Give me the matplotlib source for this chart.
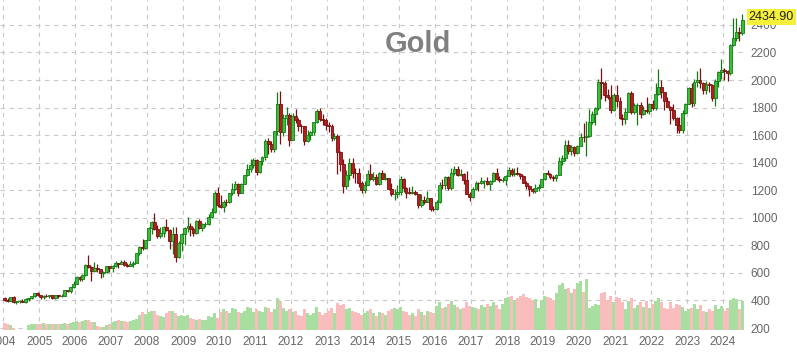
import pandas as pd
import matplotlib
matplotlib.use('Agg')
import matplotlib.pyplot as plt
import matplotlib.dates as mdates
import matplotlib.transforms as mtransforms

# monthly gold candles, Jan 2004 .. Jul 2024
first_open = 416
closes = [
    400, 397, 427, 388, 393, 395, 391, 408, 416, 429, 453, 438,  # 2004
    423, 434, 429, 436, 417, 437, 429, 434, 473, 470, 495, 518,  # 2005
    569, 557, 583, 654, 645, 616, 633, 626, 599, 604, 648, 635,  # 2006
    651, 669, 664, 680, 657, 650, 666, 673, 743, 789, 783, 838,  # 2007
    923, 971, 917, 865, 887, 930, 912, 833, 880, 718, 819, 884,  # 2008
    927, 942, 917, 891, 979, 927, 955, 956, 1008, 1040, 1182, 1096,  # 2009
    1081, 1118, 1113, 1180, 1212, 1245, 1181, 1248, 1308, 1357, 1386, 1421,  # 2010
    1332, 1411, 1439, 1556, 1536, 1502, 1628, 1829, 1620, 1724, 1746, 1566,  # 2011
    1740, 1711, 1669, 1664, 1561, 1604, 1622, 1692, 1772, 1719, 1713, 1675,  # 2012
    1663, 1578, 1596, 1476, 1393, 1234, 1313, 1395, 1328, 1323, 1250, 1202,  # 2013
    1240, 1321, 1284, 1295, 1246, 1322, 1282, 1287, 1210, 1171, 1175, 1184,  # 2014
    1278, 1213, 1183, 1182, 1190, 1172, 1095, 1132, 1115, 1142, 1065, 1061,  # 2015
    1116, 1238, 1235, 1293, 1215, 1322, 1351, 1309, 1316, 1276, 1173, 1152,  # 2016
    1211, 1252, 1249, 1268, 1269, 1242, 1269, 1322, 1280, 1271, 1275, 1303,  # 2017
    1345, 1318, 1327, 1316, 1305, 1253, 1233, 1206, 1192, 1215, 1222, 1282,  # 2018
    1325, 1316, 1298, 1286, 1311, 1413, 1437, 1529, 1485, 1514, 1473, 1523,  # 2019
    1589, 1585, 1596, 1694, 1751, 1800, 1986, 1978, 1895, 1879, 1780, 1895,  # 2020
    1850, 1728, 1715, 1768, 1905, 1771, 1817, 1818, 1757, 1784, 1776, 1829,  # 2021
    1797, 1900, 1949, 1911, 1848, 1807, 1782, 1726, 1672, 1640, 1759, 1826,  # 2022
    1945, 1836, 1986, 1999, 1982, 1929, 1970, 1966, 1866, 1996, 2057, 2072,  # 2023
    2067, 2054, 2254, 2303, 2346, 2339, 2434.9,  # 2024
]
highs = [
    427, 419, 428, 431, 398, 405, 410, 416, 419, 431, 456, 458,
    440, 437, 446, 438, 438, 442, 440, 448, 477, 478, 497, 540,
    574, 575, 590, 662, 732, 649, 678, 665, 628, 612, 652, 651,
    657, 690, 672, 696, 693, 672, 684, 684, 748, 796, 848, 842,
    935, 976, 1033, 950, 932, 943, 991, 920, 930, 935, 830, 888,
    932, 1007, 960, 931, 981, 992, 960, 966, 1025, 1071, 1195, 1227,
    1162, 1126, 1138, 1181, 1249, 1265, 1250, 1252, 1310, 1388, 1424, 1432,
    1424, 1414, 1447, 1575, 1577, 1560, 1632, 1912, 1921, 1753, 1804, 1764,
    1764, 1792, 1723, 1680, 1668, 1640, 1633, 1693, 1790, 1798, 1755, 1726,
    1694, 1679, 1617, 1611, 1487, 1424, 1348, 1434, 1434, 1362, 1361, 1267,
    1268, 1345, 1392, 1331, 1315, 1332, 1346, 1325, 1290, 1255, 1206, 1239,
    1307, 1287, 1224, 1224, 1232, 1205, 1175, 1170, 1157, 1191, 1143, 1089,
    1127, 1263, 1283, 1306, 1304, 1362, 1377, 1375, 1352, 1326, 1337, 1188,
    1220, 1264, 1262, 1295, 1273, 1296, 1275, 1331, 1362, 1306, 1299, 1310,
    1366, 1361, 1365, 1369, 1326, 1309, 1266, 1236, 1214, 1246, 1245, 1285,
    1327, 1349, 1323, 1310, 1316, 1443, 1453, 1565, 1566, 1527, 1518, 1527,
    1613, 1691, 1704, 1788, 1775, 1802, 2005, 2089, 1992, 1933, 1965, 1907,
    1962, 1875, 1755, 1797, 1916, 1919, 1834, 1832, 1837, 1814, 1877, 1831,
    1853, 1976, 2079, 2003, 1912, 1879, 1814, 1824, 1735, 1729, 1786, 1833,
    1950, 1975, 2010, 2064, 2085, 1986, 1990, 1983, 1970, 2009, 2062, 2152,
    2088, 2070, 2265, 2448, 2450, 2388, 2483,
]
lows = [
    399, 392, 393, 382, 371, 381, 386, 385, 399, 411, 424, 430,
    414, 410, 425, 420, 414, 414, 417, 427, 432, 463, 456, 490,
    517, 540, 541, 580, 638, 543, 603, 610, 560, 567, 600, 610,
    603, 646, 635, 662, 652, 640, 647, 645, 672, 730, 769, 777,
    836, 883, 914, 855, 853, 858, 904, 774, 736, 681, 705, 760,
    803, 895, 866, 865, 881, 921, 903, 934, 950, 997, 1034, 1075,
    1073, 1044, 1089, 1111, 1165, 1202, 1157, 1177, 1242, 1305, 1330, 1359,
    1308, 1327, 1381, 1420, 1462, 1478, 1478, 1603, 1535, 1593, 1670, 1523,
    1563, 1690, 1627, 1614, 1527, 1550, 1565, 1598, 1689, 1700, 1672, 1636,
    1626, 1555, 1563, 1321, 1337, 1180, 1207, 1271, 1292, 1251, 1227, 1182,
    1182, 1238, 1277, 1268, 1240, 1240, 1281, 1271, 1205, 1161, 1131, 1142,
    1167, 1190, 1142, 1170, 1170, 1162, 1072, 1077, 1099, 1112, 1052, 1046,
    1058, 1108, 1208, 1208, 1199, 1200, 1310, 1301, 1305, 1242, 1171, 1122,
    1146, 1199, 1195, 1245, 1214, 1237, 1204, 1258, 1275, 1260, 1263, 1236,
    1302, 1307, 1303, 1311, 1282, 1250, 1211, 1160, 1180, 1182, 1196, 1221,
    1276, 1309, 1281, 1266, 1267, 1310, 1382, 1412, 1465, 1459, 1446, 1461,
    1518, 1547, 1450, 1586, 1680, 1673, 1779, 1864, 1849, 1859, 1764, 1776,
    1802, 1717, 1677, 1679, 1766, 1750, 1750, 1677, 1721, 1746, 1758, 1753,
    1780, 1785, 1890, 1872, 1786, 1805, 1681, 1710, 1615, 1618, 1617, 1754,
    1823, 1804, 1810, 1950, 1942, 1900, 1902, 1913, 1848, 1810, 1953, 2010,
    2002, 1996, 2039, 2250, 2286, 2285, 2327,
]
volumes = [
    48, 45, 36, 12, 3, 2, 2, 3, 36, 40, 45, 42,
    42, 48, 45, 40, 45, 42, 40, 45, 48, 44, 50, 55,
    62, 58, 66, 72, 70, 60, 55, 28, 24, 24, 36, 40,
    58, 64, 70, 62, 66, 60, 64, 70, 80, 110, 130, 115,
    130, 140, 135, 110, 100, 95, 120, 135, 140, 125, 100, 110,
    100, 110, 85, 80, 75, 80, 70, 75, 105, 95, 120, 90,
    130, 150, 140, 120, 160, 150, 130, 120, 140, 165, 160, 130,
    150, 140, 130, 170, 160, 130, 150, 230, 210, 160, 140, 150,
    130, 140, 110, 100, 150, 120, 110, 120, 170, 130, 110, 120,
    140, 160, 120, 195, 180, 190, 150, 160, 140, 130, 120, 110,
    120, 140, 150, 120, 100, 130, 120, 110, 140, 150, 160, 150,
    165, 140, 130, 110, 120, 105, 150, 130, 110, 140, 130, 120,
    175, 200, 160, 170, 190, 210, 180, 170, 150, 160, 200, 175,
    170, 160, 155, 180, 165, 190, 175, 200, 180, 150, 190, 230,
    240, 250, 220, 230, 250, 260, 240, 230, 215, 225, 160, 220,
    250, 240, 230, 220, 270, 330, 340, 300, 305, 270, 300, 340,
    355, 275, 370, 160, 175, 190, 185, 270, 275, 215, 250, 200,
    240, 230, 200, 150, 210, 230, 160, 180, 200, 170, 210, 160,
    190, 210, 230, 200, 160, 150, 200, 160, 190, 180, 170, 140,
    150, 160, 190, 150, 180, 140, 130, 150, 140, 180, 150, 175,
    140, 160, 220, 230, 225, 150, 210,
]
years = list(range(2004, 2025))
price_ticks = list(range(200, 2401, 200))
title = 'Gold'
last_label = '2434.90'

opens = [first_open] + closes[:-1]
months = pd.date_range('2004-01-01', periods=len(closes), freq='MS') + pd.Timedelta(days=15)
up = [c >= o for o, c in zip(opens, closes)]

plt.rcParams['font.family'] = ['Liberation Sans', 'DejaVu Sans']

fig = plt.figure(figsize=(7.97, 3.60), dpi=100)
ax = fig.add_axes([0, 30 / 360, 745 / 797, 330 / 360])

ymin, ymax = 185.5, 2581
ax.set_ylim(ymin, ymax)
ax.set_xlim(pd.Timestamp('2003-12-01'), pd.Timestamp('2024-08-11'))

# volume
vol_cols = ['#a8dea0' if u else '#f9bdbd' for u in up]
ax.bar(months, volumes, width=30.5, bottom=ymin, color=vol_cols, linewidth=0, zorder=1)

# candles
wick_cols = ['#147a14' if u else '#7a1010' for u in up]
body_cols = ['#38bf38' if u else '#b41e1e' for u in up]
ax.vlines(months, lows, highs, colors=wick_cols, linewidth=0.9, zorder=2)
bottoms = [min(o, c) for o, c in zip(opens, closes)]
heights = [max(abs(c - o), 2) for o, c in zip(opens, closes)]
ax.bar(months, heights, width=23, bottom=bottoms, color=body_cols,
       edgecolor=wick_cols, linewidth=0.6, zorder=3)

# axes styling
ax.grid(True, linestyle=(0, (4, 4)), color='#c8c8c8', linewidth=0.8, zorder=0)
ax.set_axisbelow(True)
for s in ax.spines.values():
    s.set_visible(False)
ax.set_xticks([pd.Timestamp(f'{y}-01-01') for y in years])
ax.xaxis.set_major_formatter(mdates.DateFormatter('%Y'))
ax.set_yticks(price_ticks)
ax.yaxis.tick_right()
ax.tick_params(axis='both', length=0, labelsize=8.5, labelcolor='#666666')
ax.tick_params(axis='x', pad=4)
ax.tick_params(axis='y', pad=4)

fig.text(418 / 797, 1 - 44 / 360, title, fontsize=21, fontweight='bold',
         color='#808080', ha='center', va='center')

trans = mtransforms.blended_transform_factory(ax.transAxes, ax.transData)
ax.text(1.005, closes[-1] + 20, last_label, transform=trans, ha='left', va='center',
        fontsize=9, color='#222222', clip_on=False, zorder=10,
        bbox=dict(boxstyle='square,pad=0.15', facecolor='#f5f03a', edgecolor='none'))

fig.savefig('out.png', dpi=100)
